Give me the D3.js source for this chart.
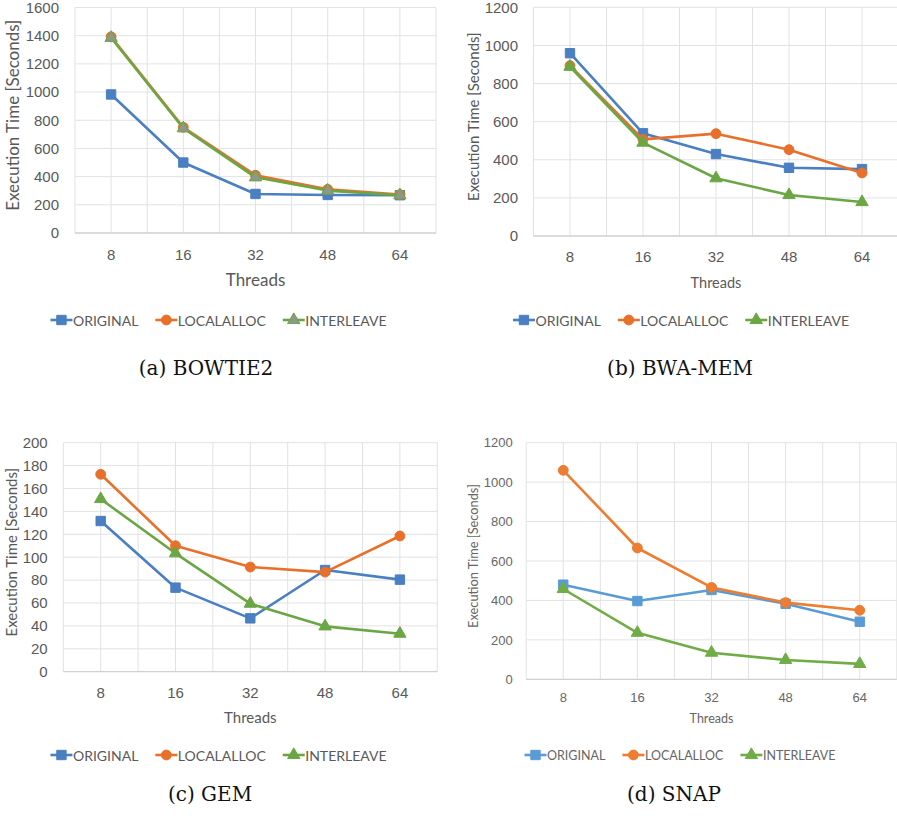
<!DOCTYPE html>
<html>
<head>
<meta charset="utf-8">
<script src="https://cdn.jsdelivr.net/npm/d3@7"></script>
<style>
  body { margin: 0; background: #fff; }
  svg { display: block; }
</style>
</head>
<body>
<div id="root"></div>
<script>
// data
const threads = ["8", "16", "32", "48", "64"];
const seriesNames = ["ORIGINAL", "LOCALALLOC", "INTERLEAVE"];

const bowtie2Original = [983, 500, 277, 270, 268];
const bowtie2Localalloc = [1392, 750, 410, 310, 272];
const bowtie2Interleave = [1385, 743, 395, 301, 268];
const bowtie2Ticks = [0, 200, 400, 600, 800, 1000, 1200, 1400, 1600];

const bwaOriginal = [959, 539, 430, 358, 351];
const bwaLocalalloc = [894, 507, 537, 453, 331];
const bwaInterleave = [888, 490, 303, 215, 178];
const bwaTicks = [0, 200, 400, 600, 800, 1000, 1200];

const gemOriginal = [131.6, 73.4, 46.6, 88.8, 80.4];
const gemLocalalloc = [172.4, 110, 91.4, 87, 118.5];
const gemInterleave = [150.8, 103.4, 59.4, 39.6, 33.2];
const gemTicks = [0, 20, 40, 60, 80, 100, 120, 140, 160, 180, 200];

const snapOriginal = [480, 397, 453, 383, 292];
const snapLocalalloc = [1060, 666, 466, 389, 350];
const snapInterleave = [458, 236, 135, 98, 78];
const snapTicks = [0, 200, 400, 600, 800, 1000, 1200];

const captions = ["(a) BOWTIE2", "(b) BWA-MEM", "(c) GEM", "(d) SNAP"];

const width = 897;
const height = 821;

const panels = [
  {
    series: [bowtie2Original, bowtie2Localalloc, bowtie2Interleave],
    ticks: bowtie2Ticks, caption: captions[0],
    left: 75, right: 436, top: 7.5, bottom: 233,
    tickEnd: 59, tickSize: 15, yLabelX: 12, yLabelSize: 17,
    xTickY: 255, threadsY: 279, threadsSize: 17,
    legendY: 320, legendX: 218.5, legendSize: 14,
    captionX: 206, captionY: 368,
    colors: ["#4a7fc1", "#e8702a", "#6aa744"], triFill: "#8f978a",
    text: "#595959"
  },
  {
    series: [bwaOriginal, bwaLocalalloc, bwaInterleave],
    ticks: bwaTicks, caption: captions[1],
    left: 533.5, right: 898.5, top: 7.3, bottom: 236,
    tickEnd: 518, tickSize: 15, yLabelX: 473, yLabelSize: 15,
    xTickY: 257, threadsY: 282, threadsSize: 14.5,
    legendY: 320, legendX: 681, legendSize: 14,
    captionX: 680, captionY: 368,
    colors: ["#4a7fc1", "#e8702a", "#6aa744"], triFill: null,
    text: "#595959"
  },
  {
    series: [gemOriginal, gemLocalalloc, gemInterleave],
    ticks: gemTicks, caption: captions[2],
    left: 63.3, right: 437.3, top: 442.7, bottom: 671.7,
    tickEnd: 47.7, tickSize: 15, yLabelX: 10.7, yLabelSize: 15,
    xTickY: 693, threadsY: 717, threadsSize: 15,
    legendY: 755, legendX: 218.5, legendSize: 14,
    captionX: 210, captionY: 794,
    colors: ["#4a7fc1", "#e8702a", "#6aa744"], triFill: null,
    text: "#595959"
  },
  {
    series: [snapOriginal, snapLocalalloc, snapInterleave],
    ticks: snapTicks, caption: captions[3],
    left: 526.2, right: 896.8, top: 442.7, bottom: 679.3,
    tickEnd: 512.7, tickSize: 13, yLabelX: 472.7, yLabelSize: 12.8,
    xTickY: 697.7, threadsY: 718, threadsSize: 12.5,
    legendY: 755, legendX: 680, legendSize: 12.5,
    captionX: 674, captionY: 794,
    colors: ["#5b9bd5", "#ed7d31", "#70ad47"], triFill: null,
    text: "#666666"
  }
];

const symbols = [d3.symbolSquare, d3.symbolCircle, d3.symbolTriangle];
const symbolSizes = [88, 76, 66];

const svg = d3
  .select("#root")
  .append("svg")
  .attr("width", width)
  .attr("height", height)
  .attr("font-family", "Lato, 'Open Sans', sans-serif");

const drawPanel = (p) => {
  const g = svg.append("g");

  const xScale = d3
    .scaleBand()
    .domain(threads)
    .range([p.left, p.right]);
  const xCenter = (d) => xScale(d) + xScale.bandwidth() / 2;
  const yScale = d3
    .scaleLinear()
    .domain([0, d3.max(p.ticks)])
    .range([p.bottom, p.top]);

  // gridlines: horizontal at ticks, vertical at every half band
  const vLines = [];
  threads.forEach((t) => {
    vLines.push(xScale(t));
    vLines.push(xCenter(t));
  });
  vLines.push(p.right);

  g.append("g")
    .selectAll("line")
    .data(vLines)
    .join("line")
    .attr("x1", (d) => d)
    .attr("x2", (d) => d)
    .attr("y1", p.top)
    .attr("y2", p.bottom)
    .attr("stroke", "#e2e2e2")
    .attr("stroke-width", 1);

  g.append("g")
    .selectAll("line")
    .data(p.ticks)
    .join("line")
    .attr("x1", p.left)
    .attr("x2", p.right)
    .attr("y1", (d) => yScale(d))
    .attr("y2", (d) => yScale(d))
    .attr("stroke", (d) => (d === 0 ? "#d0d0d0" : "#e2e2e2"))
    .attr("stroke-width", (d) => (d === 0 ? 1.3 : 1));

  // y axis labels
  const yAxis = d3
    .axisLeft(yScale)
    .tickValues(p.ticks)
    .tickSize(0)
    .tickPadding(p.left - p.tickEnd)
    .tickFormat(d3.format("d"));
  const yAxisArea = g
    .append("g")
    .attr("transform", `translate(${p.left},0)`)
    .call(yAxis);
  yAxisArea.select(".domain").remove();
  yAxisArea
    .selectAll("text")
    .attr("font-family", "inherit")
    .attr("font-size", p.tickSize)
    .attr("fill", p.text);

  // x axis labels
  const xAxis = d3.axisBottom(xScale).tickSize(0);
  const xAxisArea = g
    .append("g")
    .attr("transform", `translate(0,${p.xTickY})`)
    .call(xAxis);
  xAxisArea.select(".domain").remove();
  xAxisArea
    .selectAll("text")
    .attr("y", 0)
    .attr("dy", "0.35em")
    .attr("font-family", "inherit")
    .attr("font-size", p.tickSize)
    .attr("fill", p.text);

  // axis titles
  const yMid = (p.top + p.bottom) / 2 - 5;
  g.append("text")
    .attr("x", p.yLabelX)
    .attr("y", yMid)
    .attr("transform", `rotate(-90, ${p.yLabelX}, ${yMid})`)
    .attr("text-anchor", "middle")
    .attr("dominant-baseline", "central")
    .attr("font-size", p.yLabelSize)
    .attr("fill", p.text)
    .text("Execution Time [Seconds]");

  g.append("text")
    .attr("x", (p.left + p.right) / 2)
    .attr("y", p.threadsY)
    .attr("text-anchor", "middle")
    .attr("dominant-baseline", "central")
    .attr("font-size", p.threadsSize)
    .attr("fill", p.text)
    .text("Threads");

  // series
  const line = d3
    .line()
    .x((d, i) => xCenter(threads[i]))
    .y((d) => yScale(d));

  p.series.forEach((values, si) => {
    const color = p.colors[si];
    g.append("path")
      .datum(values)
      .attr("fill", "none")
      .attr("stroke", color)
      .attr("stroke-width", 2.6)
      .attr("stroke-linejoin", "round")
      .attr("d", line);
    g.append("g")
      .selectAll("path")
      .data(values)
      .join("path")
      .attr(
        "transform",
        (d, i) => `translate(${xCenter(threads[i])},${yScale(d)})`
      )
      .attr("d", d3.symbol(symbols[si], symbolSizes[si]))
      .attr("fill", si === 2 && p.triFill ? p.triFill : color)
      .attr("stroke", color)
      .attr("stroke-width", 1);
  });

  // legend
  const legend = g.append("g");
  const lineLen = 22;
  const gap = 17;
  let cursor = 0;
  seriesNames.forEach((name, si) => {
    const color = p.colors[si];
    const item = legend.append("g").attr("transform", `translate(${cursor},0)`);
    item
      .append("line")
      .attr("x1", 0)
      .attr("x2", lineLen)
      .attr("stroke", color)
      .attr("stroke-width", 2.6);
    item
      .append("path")
      .attr("transform", `translate(${lineLen / 2},0)`)
      .attr("d", d3.symbol(symbols[si], symbolSizes[si]))
      .attr("fill", si === 2 && p.triFill ? p.triFill : color)
      .attr("stroke", color)
      .attr("stroke-width", 1);
    const label = item
      .append("text")
      .attr("x", lineLen + 0.5)
      .attr("dominant-baseline", "central")
      .attr("font-size", p.legendSize)
      .attr("fill", p.text)
      .text(name);
    cursor += lineLen + 0.5 + label.node().getComputedTextLength() + gap;
  });
  const legendWidth = cursor - gap;
  legend.attr(
    "transform",
    `translate(${p.legendX - legendWidth / 2},${p.legendY})`
  );

  // caption
  svg
    .append("text")
    .attr("x", p.captionX)
    .attr("y", p.captionY)
    .attr("text-anchor", "middle")
    .attr("dominant-baseline", "central")
    .attr("font-family", "'DejaVu Serif', serif")
    .attr("font-size", 20)
    .attr("fill", "#111")
    .text(p.caption);
};

panels.forEach(drawPanel);
</script>
</body>
</html>
